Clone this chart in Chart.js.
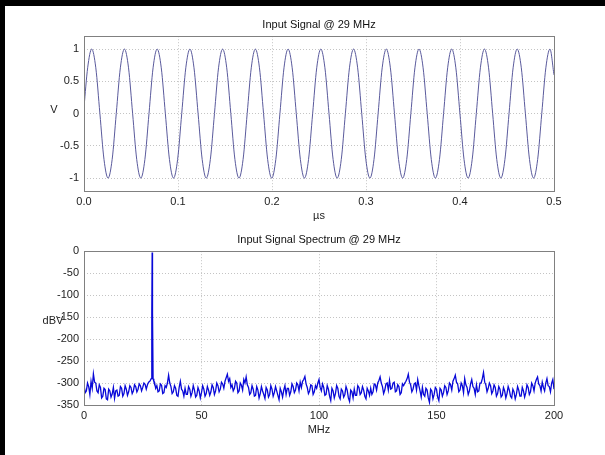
<!DOCTYPE html>
<html>
<head>
<meta charset="utf-8">
<script src="https://cdn.jsdelivr.net/npm/chart.js@4.4.0/dist/chart.umd.min.js"></script>
<style>
  body { margin: 0; background: #fff; width: 605px; height: 455px; position: relative; overflow: hidden; }
  #edgeLeft { position: absolute; left: 0; top: 0; width: 5px; height: 455px; background: #000; }
  #edgeTop { position: absolute; left: 0; top: 0; width: 605px; height: 6px; background: #000; }
  canvas { position: absolute; left: 0; }
  #signalChart { top: 0; }
  #spectrumChart { top: 225px; }
</style>
</head>
<body>
<div id="edgeLeft"></div>
<div id="edgeTop"></div>
<canvas id="signalChart" width="605" height="225"></canvas>
<canvas id="spectrumChart" width="605" height="230"></canvas>
<script>
// input signal (peaks, troughs, crossings and the points between)
const timeUs = [
    0, 0.0039,
    0.0082, 0.01255, 0.01691, 0.02126, 0.02561, 0.02996, 0.03432, 0.03867,
    0.04302, 0.04737, 0.05173, 0.05608, 0.06043, 0.06478, 0.06914, 0.07349,
    0.07784, 0.08219, 0.08655, 0.09090, 0.09525, 0.09960, 0.10396, 0.10831,
    0.11266, 0.11701, 0.12137, 0.12572, 0.13007, 0.13442, 0.13878, 0.14313,
    0.14748, 0.15183, 0.15619, 0.16054, 0.16489, 0.16924, 0.17360, 0.17795,
    0.18230, 0.18665, 0.19101, 0.19536, 0.19971, 0.20406, 0.20842, 0.21277,
    0.21712, 0.22147, 0.22583, 0.23018, 0.23453, 0.23888, 0.24324, 0.24759,
    0.25194, 0.25629, 0.26065, 0.26500, 0.26935, 0.27370, 0.27806, 0.28241,
    0.28676, 0.29111, 0.29547, 0.29982, 0.30417, 0.30852, 0.31288, 0.31723,
    0.32158, 0.32593, 0.33029, 0.33464, 0.33899, 0.34334, 0.34770, 0.35205,
    0.35640, 0.36075, 0.36511, 0.36946, 0.37381, 0.37816, 0.38252, 0.38687,
    0.39122, 0.39557, 0.39993, 0.40428, 0.40863, 0.41298, 0.41734, 0.42169,
    0.42604, 0.43039, 0.43475, 0.43910, 0.44345, 0.44780, 0.45216, 0.45651,
    0.46086, 0.46521, 0.46957, 0.47392, 0.47827, 0.48262, 0.48698, 0.49133,
    0.49568, 0.5
];
const voltV = [
    0.1, 0.71,
    1, 0.71, 0, -0.71, -1, -0.71, 0, 0.71,
    1, 0.71, 0, -0.71, -1, -0.71, 0, 0.71,
    1, 0.71, 0, -0.71, -1, -0.71, 0, 0.71,
    1, 0.71, 0, -0.71, -1, -0.71, 0, 0.71,
    1, 0.71, 0, -0.71, -1, -0.71, 0, 0.71,
    1, 0.71, 0, -0.71, -1, -0.71, 0, 0.71,
    1, 0.71, 0, -0.71, -1, -0.71, 0, 0.71,
    1, 0.71, 0, -0.71, -1, -0.71, 0, 0.71,
    1, 0.71, 0, -0.71, -1, -0.71, 0, 0.71,
    1, 0.71, 0, -0.71, -1, -0.71, 0, 0.71,
    1, 0.71, 0, -0.71, -1, -0.71, 0, 0.71,
    1, 0.71, 0, -0.71, -1, -0.71, 0, 0.71,
    1, 0.71, 0, -0.71, -1, -0.71, 0, 0.71,
    1, 0.71, 0, -0.71, -1, -0.71, 0, 0.71,
    1, 0.6
];

// spectrum (noise floor estimated every half MHz)
const freqMHz = [
    0, 0.5, 1, 1.5, 2, 2.5, 3, 3.5, 4, 4.5,
    5, 5.5, 6, 6.5, 7, 7.5, 8, 8.5, 9, 9.5,
    10, 10.5, 11, 11.5, 12, 12.5, 13, 13.5, 14, 14.5,
    15, 15.5, 16, 16.5, 17, 17.5, 18, 18.5, 19, 19.5,
    20, 20.5, 21, 21.5, 22, 22.5, 23, 23.5, 24, 24.5,
    25, 25.5, 26, 26.5, 27, 27.5,
    28,
    28.6, 28.85, 29, 29.15, 29.4, 29.7,
    30, 30.5, 31, 31.5, 32, 32.5, 33, 33.5, 34, 34.5,
    35, 35.5, 36, 36.5, 37, 37.5, 38, 38.5, 39, 39.5,
    40, 40.5, 41, 41.5, 42, 42.5, 43, 43.5, 44, 44.5,
    45, 45.5, 46, 46.5, 47, 47.5, 48, 48.5, 49, 49.5,
    50, 50.5, 51, 51.5, 52, 52.5, 53, 53.5, 54, 54.5,
    55, 55.5, 56, 56.5, 57, 57.5, 58, 58.5, 59, 59.5,
    60, 60.5, 61, 61.5, 62, 62.5, 63, 63.5, 64, 64.5,
    65, 65.5, 66, 66.5, 67, 67.5, 68, 68.5, 69, 69.5,
    70, 70.5, 71, 71.5, 72, 72.5, 73, 73.5, 74, 74.5,
    75, 75.5, 76, 76.5, 77, 77.5, 78, 78.5, 79, 79.5,
    80, 80.5, 81, 81.5, 82, 82.5, 83, 83.5, 84, 84.5,
    85, 85.5, 86, 86.5, 87, 87.5, 88, 88.5, 89, 89.5,
    90, 90.5, 91, 91.5, 92, 92.5, 93, 93.5, 94, 94.5,
    95, 95.5, 96, 96.5, 97, 97.5, 98, 98.5, 99, 99.5,
    100, 100.5, 101, 101.5, 102, 102.5, 103, 103.5, 104, 104.5,
    105, 105.5, 106, 106.5, 107, 107.5, 108, 108.5, 109, 109.5,
    110, 110.5, 111, 111.5, 112, 112.5, 113, 113.5, 114, 114.5,
    115, 115.5, 116, 116.5, 117, 117.5, 118, 118.5, 119, 119.5,
    120, 120.5, 121, 121.5, 122, 122.5, 123, 123.5, 124, 124.5,
    125, 125.5, 126, 126.5, 127, 127.5, 128, 128.5, 129, 129.5,
    130, 130.5, 131, 131.5, 132, 132.5, 133, 133.5, 134, 134.5,
    135, 135.5, 136, 136.5, 137, 137.5, 138, 138.5, 139, 139.5,
    140, 140.5, 141, 141.5, 142, 142.5, 143, 143.5, 144, 144.5,
    145, 145.5, 146, 146.5, 147, 147.5, 148, 148.5, 149, 149.5,
    150, 150.5, 151, 151.5, 152, 152.5, 153, 153.5, 154, 154.5,
    155, 155.5, 156, 156.5, 157, 157.5, 158, 158.5, 159, 159.5,
    160, 160.5, 161, 161.5, 162, 162.5, 163, 163.5, 164, 164.5,
    165, 165.5, 166, 166.5, 167, 167.5, 168, 168.5, 169, 169.5,
    170, 170.5, 171, 171.5, 172, 172.5, 173, 173.5, 174, 174.5,
    175, 175.5, 176, 176.5, 177, 177.5, 178, 178.5, 179, 179.5,
    180, 180.5, 181, 181.5, 182, 182.5, 183, 183.5, 184, 184.5,
    185, 185.5, 186, 186.5, 187, 187.5, 188, 188.5, 189, 189.5,
    190, 190.5, 191, 191.5, 192, 192.5, 193, 193.5, 194, 194.5,
    195, 195.5, 196, 196.5, 197, 197.5, 198, 198.5, 199, 199.5,
    200
];
const levelDbv = [
    -305, -322, -318, -300, -308, -326, -296, -312, -279, -298,
    -300, -318, -322, -304, -310, -334, -330, -312, -315, -336,
    -338, -314, -318, -332, -325, -310, -335, -318, -316, -330,
    -328, -308, -312, -330, -324, -306, -314, -328, -320, -306,
    -310, -324, -318, -304, -308, -320, -314, -302, -306, -318,
    -310, -300, -303, -314, -304, -298,
    -296,
    -290, -140, -3, -140, -290, -296,
    -298, -312, -306, -320, -318, -302, -305, -324, -322, -306,
    -310, -300, -282, -300, -308, -324, -320, -306, -312, -328,
    -330, -310, -296, -314, -318, -330, -312, -326, -326, -308,
    -314, -330, -322, -306, -316, -332, -328, -310, -318, -334,
    -322, -306, -314, -330, -324, -308, -316, -328, -320, -304,
    -310, -326, -318, -300, -306, -320, -314, -298, -302, -312,
    -296, -288, -280, -296, -290, -310, -304, -318, -312, -296,
    -300, -322, -318, -300, -305, -316, -292, -300, -286, -304,
    -310, -326, -322, -306, -314, -330, -328, -308, -316, -334,
    -324, -308, -318, -326, -335, -310, -316, -332, -326, -306,
    -314, -330, -322, -308, -318, -328, -338, -312, -320, -332,
    -316, -306, -326, -312, -312, -328, -320, -302, -308, -322,
    -316, -300, -304, -318, -298, -310, -296, -292, -285, -302,
    -310, -324, -318, -304, -306, -326, -320, -306, -312, -300,
    -292, -310, -318, -302, -310, -328, -326, -306, -314, -330,
    -340, -312, -318, -334, -324, -306, -312, -330, -336, -314,
    -318, -332, -326, -308, -316, -334, -342, -316, -320, -334,
    -314, -328, -328, -306, -310, -326, -322, -308, -316, -330,
    -336, -312, -318, -328, -312, -326, -320, -302, -304, -316,
    -300, -294, -286, -300, -308, -324, -316, -302, -300, -316,
    -294, -314, -312, -300, -298, -320, -318, -304, -308, -326,
    -322, -302, -306, -300, -296, -290, -280, -298, -304, -320,
    -314, -302, -300, -316, -292, -306, -318, -332, -310, -326,
    -330, -312, -316, -334, -344, -314, -318, -336, -326, -310,
    -314, -332, -340, -312, -316, -330, -322, -306, -310, -326,
    -318, -300, -304, -316, -296, -290, -282, -298, -302, -320,
    -316, -300, -306, -322, -290, -304, -310, -326, -318, -302,
    -292, -308, -312, -326, -304, -320, -318, -300, -300, -290,
    -276, -298, -304, -320, -312, -300, -306, -324, -318, -304,
    -310, -330, -324, -308, -314, -332, -328, -310, -318, -334,
    -324, -308, -316, -330, -334, -314, -320, -336, -326, -308,
    -316, -330, -330, -310, -318, -332, -322, -304, -310, -326,
    -320, -300, -306, -318, -300, -292, -286, -302, -306, -318,
    -298, -310, -318, -300, -290, -306, -308, -320, -300, -292,
    -314
];

// tick labels
const timeTicks = [0, 0.1, 0.2, 0.3, 0.4, 0.5];
const voltTicks = [-1, -0.5, 0, 0.5, 1];
const freqTicks = [0, 50, 100, 150, 200];
const dbvTicks = [-350, -300, -250, -200, -150, -100, -50, 0];

Chart.defaults.font.family = '"Liberation Sans", Arial, sans-serif';
Chart.defaults.font.size = 11;
Chart.defaults.color = '#222';

// matlab style frame round the axes, and the flat y label
const framePlugin = {
    id: 'frame',
    afterDraw(chart, args, opts) {
        const ctx = chart.ctx;
        const a = chart.chartArea;
        ctx.save();
        ctx.strokeStyle = '#808080';
        ctx.lineWidth = 1;
        ctx.strokeRect(Math.round(a.left) + 0.5, Math.round(a.top) + 0.5,
            Math.round(a.right - a.left), Math.round(a.bottom - a.top));
        ctx.fillStyle = '#222';
        ctx.font = '11px "Liberation Sans", Arial, sans-serif';
        ctx.textAlign = 'center';
        ctx.textBaseline = 'middle';
        ctx.fillText(opts.label, opts.x, opts.y);
        ctx.restore();
    }
};

function setTicks(list) {
    return scale => { scale.ticks = list.map(v => ({ value: v })); };
}

function axisX(min, max, list, title, fmt, height, titleGap) {
    return {
        type: 'linear', min: min, max: max,
        afterBuildTicks: setTicks(list),
        afterFit: scale => { scale.height = height; },
        grid: { color: '#c4c4c4', drawTicks: false },
        border: { display: false, dash: [1, 2] },
        ticks: { padding: 4, maxRotation: 0, autoSkip: false, callback: fmt },
        title: { display: true, text: title, padding: { top: 1, bottom: titleGap } }
    };
}

function axisY(min, max, list, fmt) {
    return {
        type: 'linear', min: min, max: max,
        afterBuildTicks: setTicks(list),
        afterFit: scale => { scale.width = 84; },
        grid: { color: '#c4c4c4', drawTicks: false },
        border: { display: false, dash: [1, 2] },
        ticks: { padding: 5, autoSkip: false, callback: fmt }
    };
}

function titleOpts(text, top, bottom) {
    return {
        display: true, text: text, fullSize: false,
        font: { size: 11, weight: 'normal' }, color: '#111',
        padding: { top: top, bottom: bottom }
    };
}

// top: the signal in time
new Chart(document.getElementById('signalChart'), {
    type: 'line',
    data: {
        datasets: [{
            data: timeUs.map((t, i) => ({ x: t, y: voltV[i] })),
            borderColor: '#5a5a9c',
            borderWidth: 1,
            pointRadius: 0,
            cubicInterpolationMode: 'monotone'
        }]
    },
    options: {
        responsive: false,
        animation: false,
        layout: { padding: { left: 0, right: 51, top: 0, bottom: 0 } },
        scales: {
            x: axisX(0, 0.5, timeTicks, '\u00b5s', v => v.toFixed(1), 34, 2),
            y: axisY(-1.2, 1.2, voltTicks, v => String(v))
        },
        plugins: {
            legend: { display: false },
            tooltip: { enabled: false },
            title: titleOpts('Input Signal @ 29 MHz', 18, 5),
            frame: { label: 'V', x: 54, y: 110 }
        }
    },
    plugins: [framePlugin]
});

// bottom: the spectrum
new Chart(document.getElementById('spectrumChart'), {
    type: 'line',
    data: {
        datasets: [{
            data: freqMHz.map((f, i) => ({ x: f, y: levelDbv[i] })),
            borderColor: '#0808d8',
            borderWidth: 1.3,
            pointRadius: 0,
            tension: 0
        }]
    },
    options: {
        responsive: false,
        animation: false,
        layout: { padding: { left: 0, right: 51, top: 0, bottom: 0 } },
        scales: {
            x: axisX(0, 200, freqTicks, 'MHz', v => String(v), 50, 18),
            y: axisY(-350, 0, dbvTicks, v => String(v))
        },
        plugins: {
            legend: { display: false },
            tooltip: { enabled: false },
            title: titleOpts('Input Signal Spectrum @ 29 MHz', 8, 5),
            frame: { label: 'dBV', x: 53, y: 96 }
        }
    },
    plugins: [framePlugin]
});
</script>
</body>
</html>
